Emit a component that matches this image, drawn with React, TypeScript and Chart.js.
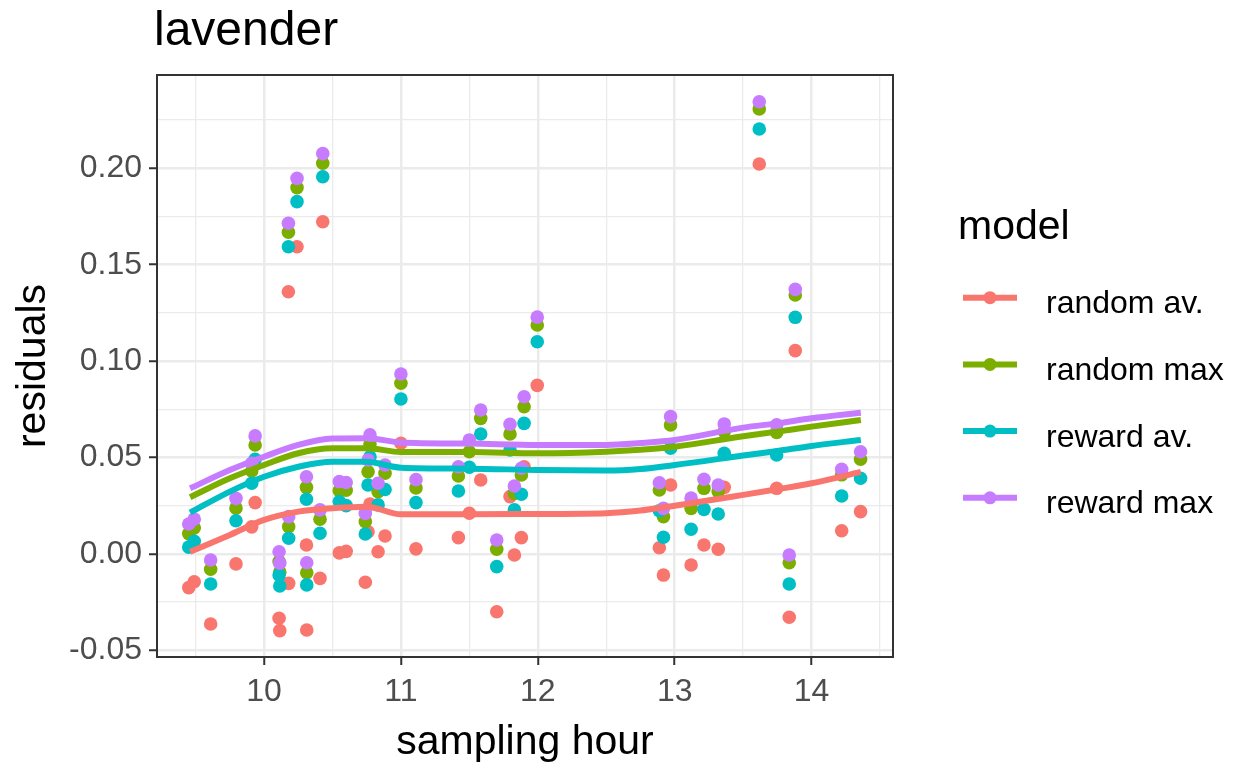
import React, { useEffect, useRef } from "react";
import { Chart, registerables } from "chart.js";

Chart.register(...registerables);

// ---------- data ----------
const seriesNames = ["random av.", "random max", "reward av.", "reward max"];
const seriesColors = ["#F8766D", "#7CAE00", "#00BFC4", "#C77CFF"];

const hours = [
  9.45, 9.49, 9.61, 9.795, 9.91, 9.935, 10.11, 10.115, 10.178, 10.18,
  10.241, 10.31, 10.312, 10.409, 10.429, 10.55, 10.6, 10.774, 10.76, 10.74,
  10.833, 10.884, 11.0, 11.11, 11.42, 11.5, 11.583, 11.7, 11.797, 11.829,
  11.88, 11.9, 11.996, 12.888, 12.918, 12.97, 13.12, 13.214, 13.318, 13.362,
  13.618, 13.745, 13.837, 13.881, 14.22, 14.358,
];
const randomAv = [
  -0.0175, -0.0145, -0.0364, -0.0052, 0.014, 0.0266, -0.0334, -0.0398, 0.136, -0.0153,
  0.1593, 0.0046, -0.0395, -0.0127, 0.1723, 0.0005, 0.0013, 0.0259, 0.0115, -0.0147,
  0.0011, 0.0093, 0.0574, 0.0026, 0.0084, 0.0211, 0.0383, -0.03, 0.0297, -0.0006,
  0.0084, 0.0452, 0.0874, 0.0032, -0.011, 0.0357, -0.0058, 0.0046, 0.0024, 0.0345,
  0.2022, 0.034, -0.0329, 0.1054, 0.012, 0.0219,
];
const randomMax = [
  0.0105, 0.0135, -0.008, 0.0237, 0.043, 0.0565, -0.004, -0.0095, 0.1668, 0.0141,
  0.19, 0.0345, -0.0098, 0.018, 0.2026, 0.0328, 0.033, 0.057, 0.0426, 0.0167,
  0.0323, 0.0418, 0.0885, 0.0342, 0.0404, 0.053, 0.0703, 0.0024, 0.0622, 0.0314,
  0.0409, 0.0763, 0.1187, 0.0331, 0.0193, 0.0669, 0.0236, 0.034, 0.0323, 0.0635,
  0.2308, 0.063, -0.0046, 0.1343, 0.041, 0.0491,
];
const rewardAv = [
  0.0035, 0.0065, -0.0156, 0.0172, 0.0366, 0.049, -0.011, -0.0167, 0.1593, 0.0081,
  0.1827, 0.0283, -0.0161, 0.0107, 0.1956, 0.0271, 0.025, 0.0504, 0.0357, 0.0103,
  0.0254, 0.0334, 0.0803, 0.0266, 0.0326, 0.0449, 0.0622, -0.0066, 0.0539, 0.0228,
  0.0309, 0.0677, 0.11, 0.0224, 0.0086, 0.0548, 0.0128, 0.0231, 0.0207, 0.0522,
  0.2204, 0.0513, -0.0156, 0.1227, 0.03, 0.0392,
];
const rewardMax = [
  0.0155, 0.018, -0.0032, 0.0288, 0.047, 0.0612, 0.0011, -0.0049, 0.1715, 0.0193,
  0.1948, 0.04, -0.0046, 0.0228, 0.2076, 0.0375, 0.037, 0.0617, 0.0487, 0.021,
  0.0366, 0.0461, 0.0933, 0.0385, 0.0452, 0.0591, 0.0746, 0.0072, 0.0672, 0.0352,
  0.0444, 0.0815, 0.1228, 0.0369, 0.0236, 0.0712, 0.0289, 0.0387, 0.0357, 0.0674,
  0.2345, 0.0669, -0.0006, 0.1372, 0.0439, 0.053,
];

// loess smooth curves
const smoothHours = [9.46, 9.75, 10.0, 10.25, 10.5, 10.75, 11.0, 11.5, 12.0, 12.5, 12.75, 13.0, 13.5, 13.75, 14.0, 14.36];
const smoothRandomAv = [0.0011, 0.0098, 0.0176, 0.0219, 0.0237, 0.0245, 0.0205, 0.0205, 0.0207, 0.0211, 0.0225, 0.025, 0.0306, 0.0335, 0.0366, 0.0425];
const smoothRandomMax = [0.0294, 0.0392, 0.0461, 0.0522, 0.0548, 0.0548, 0.0528, 0.0528, 0.0522, 0.053, 0.054, 0.0556, 0.061, 0.0634, 0.066, 0.0694];
const smoothRewardAv = [0.0214, 0.0323, 0.04, 0.0452, 0.0478, 0.0478, 0.0447, 0.0442, 0.0435, 0.0432, 0.044, 0.0461, 0.051, 0.0534, 0.056, 0.0591];
const smoothRewardMax = [0.034, 0.0435, 0.0504, 0.0565, 0.0598, 0.06, 0.0578, 0.0572, 0.0565, 0.0565, 0.0575, 0.0591, 0.0655, 0.0677, 0.0703, 0.0732];

const xTicks = [9.5, 10, 10.5, 11, 11.5, 12, 12.5, 13, 13.5, 14, 14.5];
const yTicks = [-0.05, -0.025, 0, 0.025, 0.05, 0.075, 0.1, 0.125, 0.15, 0.175, 0.2, 0.225];

const titleText = "lavender";
const xTitle = "sampling hour";
const yTitle = "residuals";
const legendTitle = "model";

const FONT = "'Liberation Sans', Arial, sans-serif";

const isXMajor = (v: number) => Math.abs(v - Math.round(v)) < 1e-6;
const isYMajor = (v: number) => Math.abs(v / 0.05 - Math.round(v / 0.05)) < 1e-6;

export default function App() {
  const canvasRef = useRef<HTMLCanvasElement | null>(null);

  useEffect(() => {
    const canvas = canvasRef.current;
    if (!canvas) return;

    const pointSeries = [randomAv, randomMax, rewardAv, rewardMax];
    const smoothSeries = [smoothRandomAv, smoothRandomMax, smoothRewardAv, smoothRewardMax];

    const datasets: any[] = [];
    // smooth lines (drawn on top: lower order)
    smoothSeries.forEach((vals, i) => {
      datasets.push({
        type: "line",
        label: seriesNames[i] + " smooth",
        data: smoothHours.map((h, k) => ({ x: h, y: vals[k] })),
        borderColor: seriesColors[i],
        borderWidth: 6,
        pointRadius: 0,
        pointHoverRadius: 0,
        fill: false,
        cubicInterpolationMode: "monotone",
        order: 4 - i,
      });
    });
    pointSeries.forEach((vals, i) => {
      datasets.push({
        type: "scatter",
        label: seriesNames[i],
        data: hours.map((h, k) => ({ x: h, y: vals[k] })),
        backgroundColor: seriesColors[i],
        borderWidth: 0,
        pointRadius: 6.8,
        pointHoverRadius: 6.8,
        order: 8 - i,
      });
    });

    const textPlugin = {
      id: "ggText",
      afterDraw(chart: any) {
        const ctx = chart.ctx as CanvasRenderingContext2D;
        const a = chart.chartArea;
        ctx.save();
        // panel border
        ctx.strokeStyle = "#333333";
        ctx.lineWidth = 2;
        ctx.strokeRect(a.left, a.top, a.right - a.left, a.bottom - a.top);

        ctx.fillStyle = "#000000";
        // title
        ctx.font = `48px ${FONT}`;
        ctx.textAlign = "left";
        ctx.textBaseline = "alphabetic";
        ctx.fillText(titleText, a.left - 3, 45);

        // x axis title
        ctx.font = `41px ${FONT}`;
        ctx.textAlign = "center";
        ctx.fillText(xTitle, (a.left + a.right) / 2, 754);

        // y axis title
        ctx.save();
        ctx.translate(45, (a.top + a.bottom) / 2);
        ctx.rotate(-Math.PI / 2);
        ctx.textAlign = "center";
        ctx.fillText(yTitle, 0, 0);
        ctx.restore();

        // legend
        ctx.textAlign = "left";
        ctx.font = `41px ${FONT}`;
        ctx.fillText(legendTitle, 958, 239);
        ctx.font = `32px ${FONT}`;
        seriesNames.forEach((name, i) => {
          const cy = 297.7 + i * 66.7;
          ctx.strokeStyle = seriesColors[i];
          ctx.lineWidth = 6;
          ctx.beginPath();
          ctx.moveTo(963, cy);
          ctx.lineTo(1017, cy);
          ctx.stroke();
          ctx.fillStyle = seriesColors[i];
          ctx.beginPath();
          ctx.arc(990, cy, 6.5, 0, Math.PI * 2);
          ctx.fill();
          ctx.fillStyle = "#000000";
          ctx.fillText(name, 1046, cy + 15.6);
        });
        ctx.restore();
      },
    };

    const chart = new Chart(canvas, {
      type: "scatter",
      data: { datasets },
      options: {
        responsive: false,
        animation: false,
        devicePixelRatio: 1,
        layout: { padding: { top: 75, right: 342, bottom: 0, left: 0 } },
        plugins: {
          legend: { display: false },
          title: { display: false },
          tooltip: { enabled: false },
        },
        events: [],
        scales: {
          x: {
            type: "linear",
            min: 9.218,
            max: 14.595,
            afterBuildTicks: (scale: any) => {
              scale.ticks = xTicks.map((v) => ({ value: v }));
            },
            afterFit: (scale: any) => {
              scale.height = 110;
            },
            border: { display: false },
            grid: {
              color: "#EBEBEB",
              lineWidth: (c: any) => (isXMajor(c.tick.value) ? 2.5 : 1.3),
              tickColor: (c: any) => (isXMajor(c.tick.value) ? "#333333" : "rgba(0,0,0,0)"),
              tickWidth: 2,
              tickLength: 8,
            },
            ticks: {
              autoSkip: false,
              maxRotation: 0,
              padding: 8,
              color: "#4D4D4D",
              font: { family: FONT, size: 32 },
              callback: (v: any) => (isXMajor(Number(v)) ? String(Math.round(Number(v))) : ""),
            },
          },
          y: {
            type: "linear",
            min: -0.0535,
            max: 0.2484,
            afterBuildTicks: (scale: any) => {
              scale.ticks = yTicks.map((v) => ({ value: v }));
            },
            afterFit: (scale: any) => {
              scale.width = 157;
            },
            border: { display: false },
            grid: {
              color: "#EBEBEB",
              lineWidth: (c: any) => (isYMajor(c.tick.value) ? 2.5 : 1.3),
              tickColor: (c: any) => (isYMajor(c.tick.value) ? "#333333" : "rgba(0,0,0,0)"),
              tickWidth: 2,
              tickLength: 8,
            },
            ticks: {
              autoSkip: false,
              padding: 7,
              color: "#4D4D4D",
              font: { family: FONT, size: 32 },
              callback: (v: any) => (isYMajor(Number(v)) ? Number(v).toFixed(2) : ""),
            },
          },
        },
      } as any,
      plugins: [textPlugin],
    });

    return () => {
      chart.destroy();
    };
  }, []);

  return (
    <div style={{ position: "absolute", left: 0, top: 0, width: 1235, height: 767, background: "#ffffff" }}>
      <canvas ref={canvasRef} width={1235} height={767} style={{ display: "block", width: 1235, height: 767 }} />
    </div>
  );
}
